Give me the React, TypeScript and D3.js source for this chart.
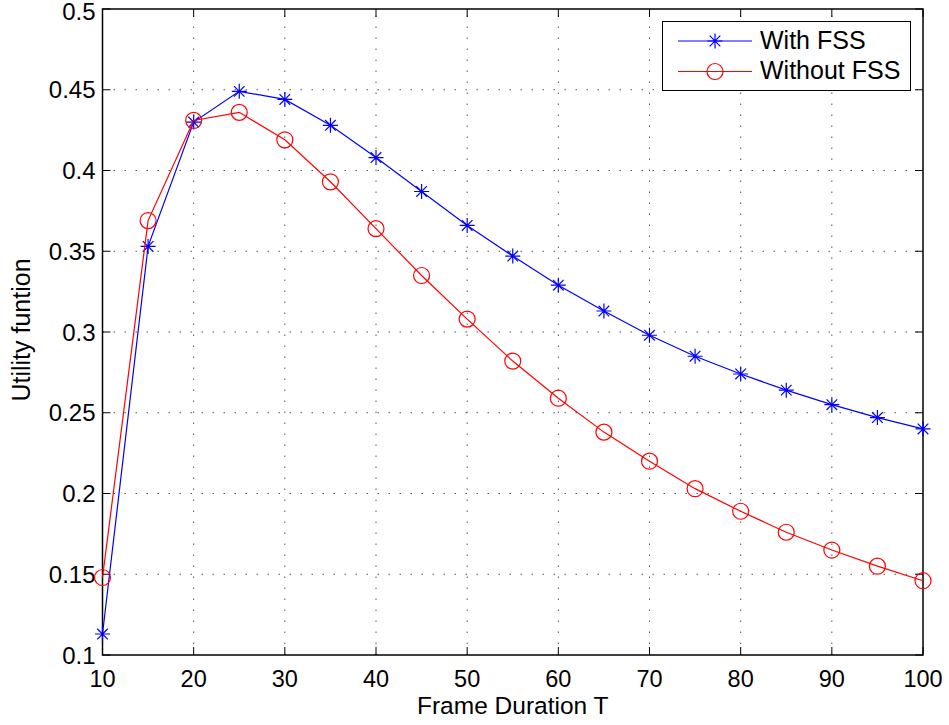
import React from 'react';
import * as d3 from 'd3';

const frameT = [10, 15, 20, 25, 30, 35, 40, 45, 50, 55, 60, 65, 70, 75, 80, 85, 90, 95, 100];
const withFSS = [0.113, 0.353, 0.430, 0.449, 0.444, 0.428, 0.408, 0.387, 0.366, 0.347, 0.329, 0.313, 0.298, 0.285, 0.274, 0.264, 0.255, 0.247, 0.240];
const withoutFSS = [0.148, 0.369, 0.431, 0.436, 0.419, 0.393, 0.364, 0.335, 0.308, 0.282, 0.259, 0.238, 0.220, 0.203, 0.189, 0.176, 0.165, 0.155, 0.146];
const xTicks = [10, 20, 30, 40, 50, 60, 70, 80, 90, 100];
const yTicks = [0.1, 0.15, 0.2, 0.25, 0.3, 0.35, 0.4, 0.45, 0.5];
const legendLabels = ['With FSS', 'Without FSS'];

const width = 949;
const height = 725;
const margin = { top: 9, right: 26, bottom: 70, left: 102.5 };
const font = 'Liberation Sans, Arial, Helvetica, sans-serif';

function Star({ x, y, r, color }: { x: number; y: number; r: number; color: string }) {
  const d = [0, 45, 90, 135].map(a => {
    const rad = (a * Math.PI) / 180;
    const dx = r * Math.cos(rad);
    const dy = r * Math.sin(rad);
    return `M${x - dx},${y - dy}L${x + dx},${y + dy}`;
  }).join('');
  return <path d={d} stroke={color} strokeWidth={1.2} fill="none" />;
}

export default function App() {
  const x = d3.scaleLinear().domain([10, 100]).range([margin.left, width - margin.right]);
  const y = d3.scaleLinear().domain([0.1, 0.5]).range([height - margin.bottom, margin.top]);

  const line = d3.line<number>()
    .x((d, i) => x(frameT[i]))
    .y(d => y(d));

  const x0 = x.range()[0], x1 = x.range()[1];
  const y0 = y.range()[0], y1 = y.range()[1];
  const tickLen = 8;

  return (
    <svg width={width} height={height} style={{ position: 'absolute', left: 0, top: 0, background: '#fff' }}>
      <rect x={0} y={0} width={width} height={height} fill="#fff" />

      {/* grid */}
      {xTicks.slice(1, -1).map(t => (
        <line key={'gx' + t} x1={x(t)} x2={x(t)} y1={y0} y2={y1}
          stroke="#555" strokeWidth={1} strokeDasharray="1.5,9.5" />
      ))}
      {yTicks.slice(1, -1).map(t => (
        <line key={'gy' + t} x1={x0} x2={x1} y1={y(t)} y2={y(t)}
          stroke="#555" strokeWidth={1} strokeDasharray="1.5,9.5" />
      ))}

      {/* ticks */}
      {xTicks.map(t => (
        <g key={'tx' + t}>
          <line x1={x(t)} x2={x(t)} y1={y0} y2={y0 - tickLen} stroke="#000" />
          <line x1={x(t)} x2={x(t)} y1={y1} y2={y1 + tickLen} stroke="#000" />
          <text x={x(t)} y={y0 + 31.5} textAnchor="middle" fontFamily={font} fontSize={23.5}>{t}</text>
        </g>
      ))}
      {yTicks.map(t => (
        <g key={'ty' + t}>
          <line x1={x0} x2={x0 + tickLen} y1={y(t)} y2={y(t)} stroke="#000" />
          <line x1={x1} x2={x1 - tickLen} y1={y(t)} y2={y(t)} stroke="#000" />
          <text x={x0 - 7} y={Math.max(y(t) + 8.5, 20)} textAnchor="end" fontFamily={font} fontSize={24}>{d3.format('')(t)}</text>
        </g>
      ))}

      {/* frame */}
      <rect x={x0} y={y1} width={x1 - x0} height={y0 - y1} fill="none" stroke="#000" strokeWidth={1.5} />

      {/* series */}
      <path d={line(withFSS) || ''} fill="none" stroke="#0000ff" strokeWidth={1.2} />
      {withFSS.map((v, i) => (
        <Star key={'s' + i} x={x(frameT[i])} y={y(v)} r={7.5} color="#0000ff" />
      ))}
      <path d={line(withoutFSS) || ''} fill="none" stroke="#ff0000" strokeWidth={1.2} />
      {withoutFSS.map((v, i) => (
        <circle key={'c' + i} cx={x(frameT[i])} cy={y(v)} r={8} fill="none" stroke="#ff0000" strokeWidth={1.2} />
      ))}

      {/* legend */}
      <g>
        <rect x={662.5} y={21.5} width={248} height={69} fill="#fff" stroke="#000" strokeWidth={1} />
        <line x1={678} x2={752} y1={41} y2={41} stroke="#0000ff" strokeWidth={1.2} />
        <Star x={715} y={41} r={7.5} color="#0000ff" />
        <text x={760} y={48.5} fontFamily={font} fontSize={25}>{legendLabels[0]}</text>
        <line x1={678} x2={752} y1={71.5} y2={71.5} stroke="#ff0000" strokeWidth={1.2} />
        <circle cx={715} cy={71.5} r={8} fill="none" stroke="#ff0000" strokeWidth={1.2} />
        <text x={760} y={78.5} fontFamily={font} fontSize={25}>{legendLabels[1]}</text>
      </g>

      {/* axis labels */}
      <text x={(x0 + x1) / 2} y={714} textAnchor="middle" fontFamily={font} fontSize={24.5}>Frame Duration T</text>
      <text transform={`translate(30,330) rotate(-90)`} textAnchor="middle" fontFamily={font} fontSize={25}>Utility funtion</text>
    </svg>
  );
}
